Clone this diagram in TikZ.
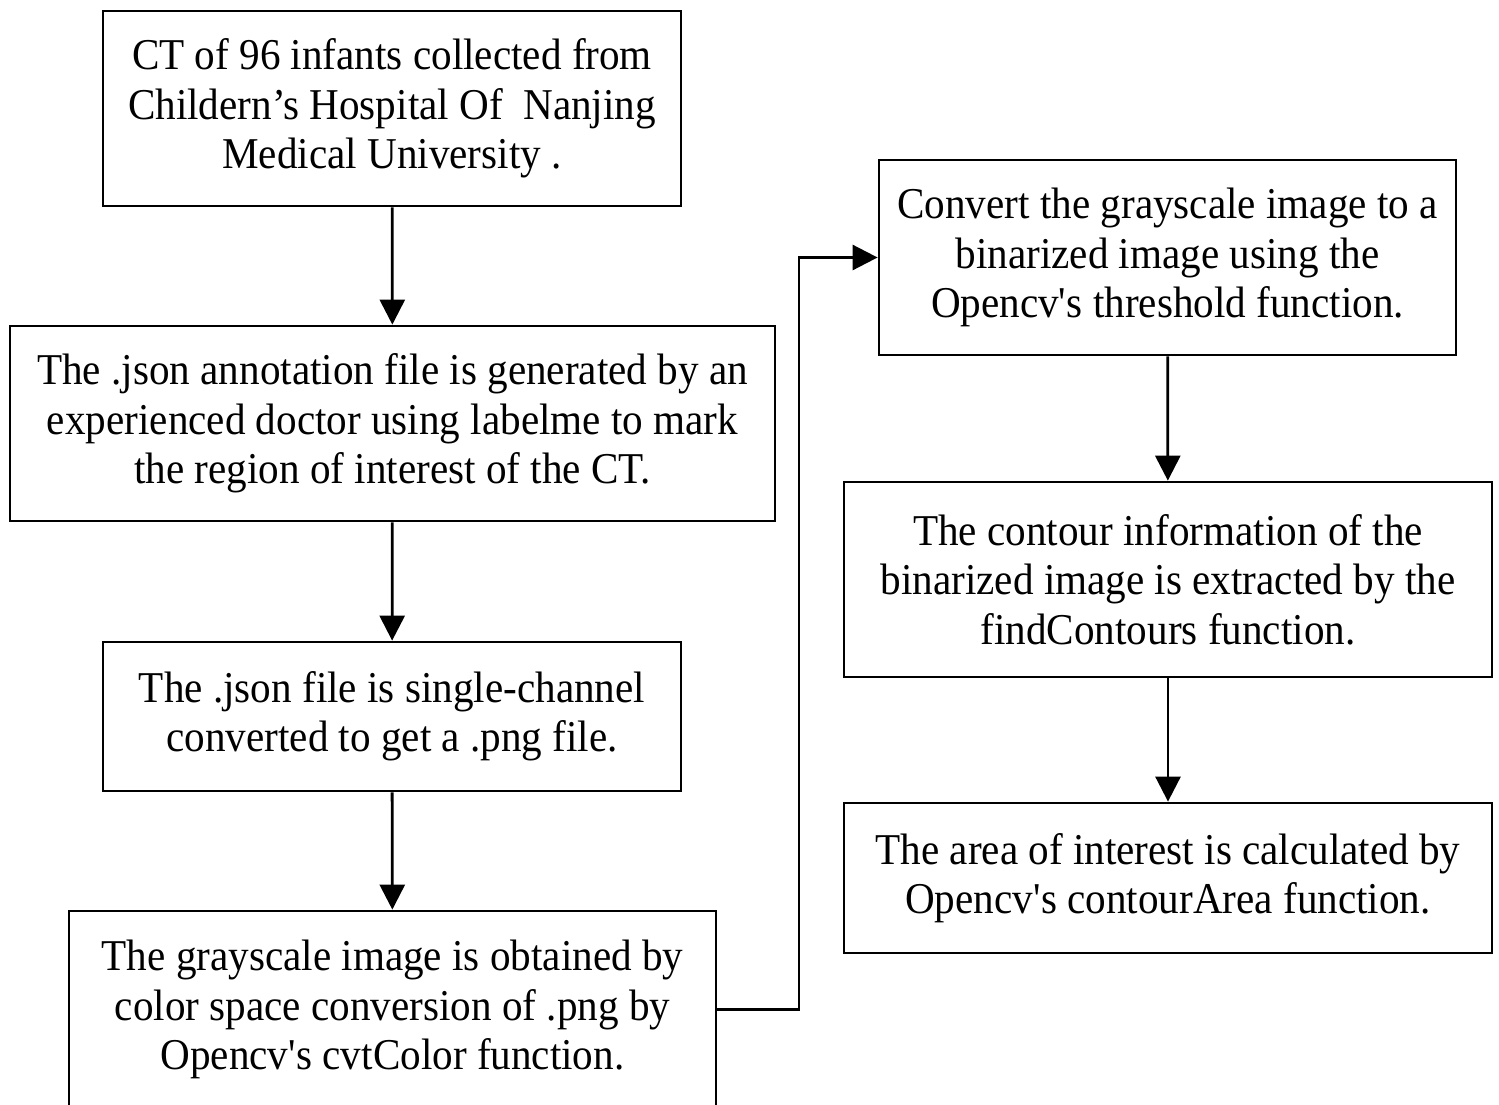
\documentclass[tikz,border=0pt]{standalone}
\usepackage{fontspec}
\setmainfont{Liberation Serif}[FakeStretch=0.935]
\usetikzlibrary{arrows.meta}
\newcommand{\aq}{\textquotesingle}
\begin{document}
\begin{tikzpicture}[x=1pt,y=-1pt,
  box/.style={draw=black,line width=2.8pt,inner sep=0pt,align=center,
    font=\fontsize{44}{49.5}\selectfont},
  arr/.style={line width=2.8pt,-{Triangle[length=25pt,width=25pt]}}]
\useasboundingbox (0,0) rectangle (1499,1105);
\clip (0,0) rectangle (1499,1105);
\fill[white] (0,0) rectangle (1499,1105);
\node[box,minimum width=578pt,minimum height=195pt] (b1) at (392,108.5)
  {CT of 96 infants collected from\\Childern’s Hospital Of\ \ Nanjing\\Medical University .};
\node[box,minimum width=765pt,minimum height=195pt] (b2) at (392.5,423.5)
  {The .json annotation file is generated by an\\experienced doctor using labelme to mark\\the region of interest of the CT.};
\node[box,minimum width=578pt,minimum height=149pt] (b3) at (392,716.5)
  {The .json file is single-channel\\converted to get a .png file.};
\node[box,minimum width=647pt,minimum height=197pt] (b4) at (392.5,1009.5)
  {The grayscale image is obtained by\\color space conversion of .png by\\Opencv\aq s cvtColor function.};
\node[box,minimum width=577pt,minimum height=195pt] (b5) at (1167.5,257.5)
  {Convert the grayscale image to a\\binarized image using the\\Opencv\aq s threshold function.};
\node[box,minimum width=648pt,minimum height=195pt] (b6) at (1168,579.5)
  {The contour information of the\\binarized image is extracted by the\\findContours function.};
\node[box,minimum width=648pt,minimum height=150pt] (b7) at (1168,878)
  {The area of interest is calculated by\\Opencv\aq s contourArea function.};
\draw[arr] (b1) -- (b2);
\draw[arr] (b2) -- (b3);
\draw[arr] (b3) -- (b4);
\coordinate (j) at (799,1009.5);
\draw[arr] (b4.east) -- (j) |- (b5.west);
\draw[arr] (b5) -- (b6);
\draw[arr] (b6) -- (b7);
\end{tikzpicture}
\end{document}
